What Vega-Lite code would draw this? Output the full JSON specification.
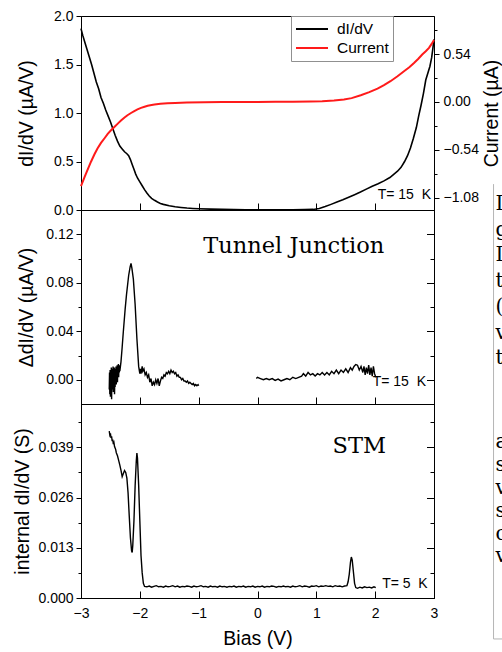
{
  "$schema": "https://vega.github.io/schema/vega-lite/v6.json",
  "padding": {"left": 12, "top": 8, "right": 0, "bottom": 0},
  "background": "white",
  "spacing": 0,
  "bounds": "flush",
  "config": {
    "view": {"stroke": "black", "strokeWidth": 1},
    "axis": {"grid": false, "labelFont": "Liberation Sans", "labelFontSize": 14, "labelColor": "black", "titleFont": "Liberation Sans", "titleFontSize": 19.5, "titleFontWeight": "normal", "titleColor": "black", "domainColor": "black", "tickColor": "black", "labelOverlap": false, "labelFlush": false, "labelPadding": 3}
  },
  "datasets": {
    "didv": [
      {"V": -3.00, "G": 1.87}, {"V": -2.97, "G": 1.80}, {"V": -2.94, "G": 1.74}, {"V": -2.90, "G": 1.66}, {"V": -2.86, "G": 1.58},
      {"V": -2.82, "G": 1.50}, {"V": -2.78, "G": 1.41}, {"V": -2.74, "G": 1.32}, {"V": -2.70, "G": 1.25}, {"V": -2.66, "G": 1.16},
      {"V": -2.62, "G": 1.10}, {"V": -2.58, "G": 1.03}, {"V": -2.54, "G": 0.97}, {"V": -2.50, "G": 0.91}, {"V": -2.46, "G": 0.84},
      {"V": -2.42, "G": 0.77}, {"V": -2.38, "G": 0.71}, {"V": -2.34, "G": 0.66}, {"V": -2.30, "G": 0.63}, {"V": -2.26, "G": 0.60},
      {"V": -2.22, "G": 0.58}, {"V": -2.19, "G": 0.56}, {"V": -2.16, "G": 0.52}, {"V": -2.13, "G": 0.47}, {"V": -2.10, "G": 0.42},
      {"V": -2.07, "G": 0.37}, {"V": -2.04, "G": 0.33}, {"V": -2.00, "G": 0.29}, {"V": -1.96, "G": 0.25}, {"V": -1.92, "G": 0.21},
      {"V": -1.88, "G": 0.175}, {"V": -1.84, "G": 0.145}, {"V": -1.80, "G": 0.12}, {"V": -1.75, "G": 0.10}, {"V": -1.70, "G": 0.082},
      {"V": -1.65, "G": 0.068}, {"V": -1.60, "G": 0.058}, {"V": -1.50, "G": 0.043}, {"V": -1.40, "G": 0.033}, {"V": -1.30, "G": 0.026},
      {"V": -1.20, "G": 0.020}, {"V": -1.10, "G": 0.016}, {"V": -1.00, "G": 0.013}, {"V": -0.80, "G": 0.009}, {"V": -0.60, "G": 0.006},
      {"V": -0.40, "G": 0.004}, {"V": -0.20, "G": 0.003}, {"V": 0.00, "G": 0.002}, {"V": 0.20, "G": 0.002}, {"V": 0.40, "G": 0.002},
      {"V": 0.60, "G": 0.003}, {"V": 0.80, "G": 0.004}, {"V": 0.95, "G": 0.006}, {"V": 1.05, "G": 0.015}, {"V": 1.15, "G": 0.035},
      {"V": 1.25, "G": 0.058}, {"V": 1.35, "G": 0.082}, {"V": 1.45, "G": 0.106}, {"V": 1.55, "G": 0.132}, {"V": 1.65, "G": 0.158},
      {"V": 1.75, "G": 0.185}, {"V": 1.85, "G": 0.215}, {"V": 1.95, "G": 0.245}, {"V": 2.05, "G": 0.27}, {"V": 2.15, "G": 0.30},
      {"V": 2.25, "G": 0.335}, {"V": 2.32, "G": 0.37}, {"V": 2.38, "G": 0.40}, {"V": 2.44, "G": 0.44}, {"V": 2.50, "G": 0.50},
      {"V": 2.55, "G": 0.56}, {"V": 2.60, "G": 0.64}, {"V": 2.65, "G": 0.74}, {"V": 2.70, "G": 0.85}, {"V": 2.74, "G": 0.97},
      {"V": 2.78, "G": 1.08}, {"V": 2.82, "G": 1.20}, {"V": 2.86, "G": 1.34}, {"V": 2.90, "G": 1.42}, {"V": 2.93, "G": 1.48},
      {"V": 2.96, "G": 1.57}, {"V": 2.98, "G": 1.66}, {"V": 3.00, "G": 1.76}
    ],
    "current": [
      {"V": -3.00, "I": -0.95}, {"V": -2.94, "I": -0.85}, {"V": -2.887, "I": -0.763}, {"V": -2.83, "I": -0.675}, {"V": -2.773, "I": -0.594},
      {"V": -2.72, "I": -0.525}, {"V": -2.66, "I": -0.463}, {"V": -2.60, "I": -0.41}, {"V": -2.546, "I": -0.361}, {"V": -2.49, "I": -0.32},
      {"V": -2.433, "I": -0.283}, {"V": -2.375, "I": -0.245}, {"V": -2.32, "I": -0.21}, {"V": -2.26, "I": -0.176}, {"V": -2.21, "I": -0.15},
      {"V": -2.15, "I": -0.125}, {"V": -2.094, "I": -0.103}, {"V": -2.04, "I": -0.084}, {"V": -1.98, "I": -0.067}, {"V": -1.92, "I": -0.054},
      {"V": -1.866, "I": -0.044}, {"V": -1.80, "I": -0.035}, {"V": -1.75, "I": -0.029}, {"V": -1.65, "I": -0.021}, {"V": -1.53, "I": -0.015},
      {"V": -1.40, "I": -0.011}, {"V": -1.20, "I": -0.007}, {"V": -0.90, "I": -0.004}, {"V": -0.60, "I": -0.002}, {"V": -0.30, "I": -0.001},
      {"V": 0.00, "I": 0.0}, {"V": 0.30, "I": 0.001}, {"V": 0.60, "I": 0.002}, {"V": 0.90, "I": 0.004}, {"V": 1.10, "I": 0.008},
      {"V": 1.30, "I": 0.016}, {"V": 1.47, "I": 0.027}, {"V": 1.60, "I": 0.043}, {"V": 1.755, "I": 0.076}, {"V": 1.90, "I": 0.11},
      {"V": 2.04, "I": 0.151}, {"V": 2.15, "I": 0.19}, {"V": 2.26, "I": 0.234}, {"V": 2.38, "I": 0.29}, {"V": 2.49, "I": 0.346},
      {"V": 2.58, "I": 0.392}, {"V": 2.66, "I": 0.44}, {"V": 2.73, "I": 0.485}, {"V": 2.80, "I": 0.535}, {"V": 2.86, "I": 0.572},
      {"V": 2.915, "I": 0.61}, {"V": 2.96, "I": 0.655}, {"V": 3.00, "I": 0.70}
    ],
    "delta": [
      {"V": -2.52, "dG": -0.008, "seg": 1}, {"V": -2.515, "dG": 0.006, "seg": 1}, {"V": -2.51, "dG": -0.012, "seg": 1}, {"V": -2.505, "dG": 0.008, "seg": 1},
      {"V": -2.50, "dG": -0.014, "seg": 1}, {"V": -2.495, "dG": 0.004, "seg": 1}, {"V": -2.49, "dG": -0.01, "seg": 1}, {"V": -2.485, "dG": 0.01, "seg": 1},
      {"V": -2.48, "dG": -0.016, "seg": 1}, {"V": -2.475, "dG": 0.002, "seg": 1}, {"V": -2.47, "dG": -0.008, "seg": 1}, {"V": -2.465, "dG": 0.009, "seg": 1},
      {"V": -2.46, "dG": -0.006, "seg": 1}, {"V": -2.455, "dG": 0.011, "seg": 1}, {"V": -2.45, "dG": -0.01, "seg": 1}, {"V": -2.445, "dG": 0.006, "seg": 1},
      {"V": -2.44, "dG": -0.004, "seg": 1}, {"V": -2.435, "dG": 0.01, "seg": 1}, {"V": -2.43, "dG": -0.012, "seg": 1}, {"V": -2.425, "dG": 0.004, "seg": 1},
      {"V": -2.42, "dG": -0.006, "seg": 1}, {"V": -2.415, "dG": 0.009, "seg": 1}, {"V": -2.41, "dG": 0.0, "seg": 1}, {"V": -2.405, "dG": 0.011, "seg": 1},
      {"V": -2.40, "dG": -0.004, "seg": 1}, {"V": -2.395, "dG": 0.008, "seg": 1}, {"V": -2.39, "dG": 0.002, "seg": 1}, {"V": -2.385, "dG": 0.012, "seg": 1},
      {"V": -2.38, "dG": -0.002, "seg": 1}, {"V": -2.375, "dG": 0.009, "seg": 1}, {"V": -2.37, "dG": 0.004, "seg": 1}, {"V": -2.365, "dG": 0.013, "seg": 1},
      {"V": -2.36, "dG": 0.002, "seg": 1}, {"V": -2.355, "dG": 0.01, "seg": 1}, {"V": -2.35, "dG": 0.006, "seg": 1}, {"V": -2.345, "dG": 0.012, "seg": 1},
      {"V": -2.34, "dG": 0.007, "seg": 1}, {"V": -2.33, "dG": 0.011, "seg": 1}, {"V": -2.32, "dG": 0.015, "seg": 1}, {"V": -2.30, "dG": 0.027, "seg": 1},
      {"V": -2.28, "dG": 0.04, "seg": 1}, {"V": -2.25, "dG": 0.058, "seg": 1}, {"V": -2.227, "dG": 0.07, "seg": 1}, {"V": -2.19, "dG": 0.086, "seg": 1},
      {"V": -2.165, "dG": 0.093, "seg": 1}, {"V": -2.15, "dG": 0.096, "seg": 1}, {"V": -2.135, "dG": 0.092, "seg": 1}, {"V": -2.11, "dG": 0.083, "seg": 1},
      {"V": -2.08, "dG": 0.062, "seg": 1}, {"V": -2.05, "dG": 0.034, "seg": 1}, {"V": -2.02, "dG": 0.011, "seg": 1}, {"V": -2.00, "dG": 0.005, "seg": 1},
      {"V": -1.99, "dG": 0.009, "seg": 1}, {"V": -1.98, "dG": 0.005, "seg": 1}, {"V": -1.96, "dG": 0.011, "seg": 1}, {"V": -1.95, "dG": 0.007, "seg": 1},
      {"V": -1.93, "dG": 0.009, "seg": 1}, {"V": -1.91, "dG": 0.004, "seg": 1}, {"V": -1.89, "dG": 0.006, "seg": 1}, {"V": -1.87, "dG": 0.002, "seg": 1},
      {"V": -1.85, "dG": 0.004, "seg": 1}, {"V": -1.83, "dG": -0.002, "seg": 1}, {"V": -1.81, "dG": 0.001, "seg": 1}, {"V": -1.79, "dG": -0.005, "seg": 1},
      {"V": -1.77, "dG": -0.002, "seg": 1}, {"V": -1.75, "dG": -0.004, "seg": 1}, {"V": -1.73, "dG": 0.0, "seg": 1}, {"V": -1.71, "dG": -0.003, "seg": 1},
      {"V": -1.69, "dG": 0.001, "seg": 1}, {"V": -1.67, "dG": -0.005, "seg": 1}, {"V": -1.65, "dG": -0.001, "seg": 1}, {"V": -1.63, "dG": 0.002, "seg": 1},
      {"V": -1.61, "dG": 0.001, "seg": 1}, {"V": -1.59, "dG": 0.004, "seg": 1}, {"V": -1.57, "dG": 0.003, "seg": 1}, {"V": -1.55, "dG": 0.006, "seg": 1},
      {"V": -1.53, "dG": 0.005, "seg": 1}, {"V": -1.51, "dG": 0.007, "seg": 1}, {"V": -1.49, "dG": 0.005, "seg": 1}, {"V": -1.47, "dG": 0.008, "seg": 1},
      {"V": -1.45, "dG": 0.006, "seg": 1}, {"V": -1.43, "dG": 0.007, "seg": 1}, {"V": -1.41, "dG": 0.005, "seg": 1}, {"V": -1.39, "dG": 0.006, "seg": 1},
      {"V": -1.37, "dG": 0.003, "seg": 1}, {"V": -1.35, "dG": 0.004, "seg": 1}, {"V": -1.33, "dG": 0.002, "seg": 1}, {"V": -1.31, "dG": 0.002, "seg": 1},
      {"V": -1.29, "dG": 0.0, "seg": 1}, {"V": -1.27, "dG": 0.001, "seg": 1}, {"V": -1.25, "dG": -0.001, "seg": 1}, {"V": -1.23, "dG": -0.001, "seg": 1},
      {"V": -1.21, "dG": -0.002, "seg": 1}, {"V": -1.19, "dG": -0.001, "seg": 1}, {"V": -1.17, "dG": -0.003, "seg": 1}, {"V": -1.15, "dG": -0.002, "seg": 1},
      {"V": -1.13, "dG": -0.003, "seg": 1}, {"V": -1.11, "dG": -0.004, "seg": 1}, {"V": -1.09, "dG": -0.003, "seg": 1}, {"V": -1.07, "dG": -0.005, "seg": 1},
      {"V": -1.05, "dG": -0.004, "seg": 1}, {"V": -1.03, "dG": -0.005, "seg": 1}, {"V": -1.01, "dG": -0.004, "seg": 1}, {"V": -1.00, "dG": -0.005, "seg": 1},
      {"V": -0.02, "dG": 0.001, "seg": 2}, {"V": 0.0, "dG": 0.002, "seg": 2}, {"V": 0.05, "dG": 0.001, "seg": 2}, {"V": 0.1, "dG": 0.0, "seg": 2},
      {"V": 0.15, "dG": 0.001, "seg": 2}, {"V": 0.2, "dG": 0.0, "seg": 2}, {"V": 0.25, "dG": 0.001, "seg": 2}, {"V": 0.3, "dG": -0.0005, "seg": 2},
      {"V": 0.35, "dG": 0.0005, "seg": 2}, {"V": 0.4, "dG": -0.001, "seg": 2}, {"V": 0.45, "dG": 0.0, "seg": 2}, {"V": 0.5, "dG": 0.001, "seg": 2},
      {"V": 0.55, "dG": 0.0, "seg": 2}, {"V": 0.6, "dG": 0.002, "seg": 2}, {"V": 0.65, "dG": 0.001, "seg": 2}, {"V": 0.7, "dG": 0.002, "seg": 2},
      {"V": 0.75, "dG": 0.003, "seg": 2}, {"V": 0.78, "dG": 0.005, "seg": 2}, {"V": 0.82, "dG": 0.003, "seg": 2}, {"V": 0.86, "dG": 0.006, "seg": 2},
      {"V": 0.9, "dG": 0.004, "seg": 2}, {"V": 0.94, "dG": 0.005, "seg": 2}, {"V": 0.98, "dG": 0.003, "seg": 2}, {"V": 1.02, "dG": 0.005, "seg": 2},
      {"V": 1.06, "dG": 0.004, "seg": 2}, {"V": 1.1, "dG": 0.006, "seg": 2}, {"V": 1.14, "dG": 0.004, "seg": 2}, {"V": 1.18, "dG": 0.006, "seg": 2},
      {"V": 1.22, "dG": 0.004, "seg": 2}, {"V": 1.26, "dG": 0.007, "seg": 2}, {"V": 1.3, "dG": 0.005, "seg": 2}, {"V": 1.34, "dG": 0.008, "seg": 2},
      {"V": 1.38, "dG": 0.005, "seg": 2}, {"V": 1.42, "dG": 0.008, "seg": 2}, {"V": 1.46, "dG": 0.006, "seg": 2}, {"V": 1.5, "dG": 0.009, "seg": 2},
      {"V": 1.54, "dG": 0.006, "seg": 2}, {"V": 1.58, "dG": 0.01, "seg": 2}, {"V": 1.61, "dG": 0.008, "seg": 2}, {"V": 1.64, "dG": 0.011, "seg": 2},
      {"V": 1.67, "dG": 0.0125, "seg": 2}, {"V": 1.7, "dG": 0.012, "seg": 2}, {"V": 1.73, "dG": 0.008, "seg": 2}, {"V": 1.76, "dG": 0.011, "seg": 2},
      {"V": 1.79, "dG": 0.006, "seg": 2}, {"V": 1.81, "dG": 0.011, "seg": 2}, {"V": 1.83, "dG": 0.004, "seg": 2}, {"V": 1.85, "dG": 0.01, "seg": 2},
      {"V": 1.87, "dG": 0.005, "seg": 2}, {"V": 1.89, "dG": 0.012, "seg": 2}, {"V": 1.91, "dG": 0.004, "seg": 2}, {"V": 1.93, "dG": 0.01, "seg": 2},
      {"V": 1.95, "dG": 0.003, "seg": 2}, {"V": 1.97, "dG": 0.011, "seg": 2}, {"V": 1.99, "dG": 0.005, "seg": 2}, {"V": 2.01, "dG": 0.002, "seg": 2}
    ],
    "stm": [
      {"V": -2.52, "S": 0.0432}, {"V": -2.51, "S": 0.0422}, {"V": -2.50, "S": 0.0426}, {"V": -2.49, "S": 0.0414}, {"V": -2.48, "S": 0.0418},
      {"V": -2.47, "S": 0.0406}, {"V": -2.46, "S": 0.0410}, {"V": -2.45, "S": 0.0398}, {"V": -2.44, "S": 0.0402}, {"V": -2.43, "S": 0.0392},
      {"V": -2.42, "S": 0.0388}, {"V": -2.41, "S": 0.0384}, {"V": -2.40, "S": 0.0376}, {"V": -2.38, "S": 0.0368}, {"V": -2.36, "S": 0.0356},
      {"V": -2.34, "S": 0.0344}, {"V": -2.32, "S": 0.0330}, {"V": -2.30, "S": 0.0314}, {"V": -2.28, "S": 0.0322}, {"V": -2.26, "S": 0.0330},
      {"V": -2.24, "S": 0.0325}, {"V": -2.22, "S": 0.0310}, {"V": -2.20, "S": 0.0272}, {"V": -2.18, "S": 0.0212}, {"V": -2.16, "S": 0.0156},
      {"V": -2.14, "S": 0.0122}, {"V": -2.13, "S": 0.0118}, {"V": -2.12, "S": 0.0136}, {"V": -2.10, "S": 0.0200}, {"V": -2.08, "S": 0.0290},
      {"V": -2.06, "S": 0.0355}, {"V": -2.05, "S": 0.0375}, {"V": -2.04, "S": 0.0362}, {"V": -2.02, "S": 0.0292}, {"V": -2.00, "S": 0.0200},
      {"V": -1.98, "S": 0.0110}, {"V": -1.96, "S": 0.0065}, {"V": -1.94, "S": 0.0038}, {"V": -1.92, "S": 0.0030},
      {"V": -1.88, "S": 0.0029}, {"V": -1.84, "S": 0.0031}, {"V": -1.80, "S": 0.0028}, {"V": -1.76, "S": 0.0030}, {"V": -1.72, "S": 0.0032},
      {"V": -1.68, "S": 0.0029}, {"V": -1.64, "S": 0.0030}, {"V": -1.60, "S": 0.0028}, {"V": -1.56, "S": 0.0031}, {"V": -1.52, "S": 0.0029},
      {"V": -1.48, "S": 0.0030}, {"V": -1.44, "S": 0.0032}, {"V": -1.40, "S": 0.0029}, {"V": -1.36, "S": 0.0031}, {"V": -1.32, "S": 0.0028},
      {"V": -1.28, "S": 0.0030}, {"V": -1.24, "S": 0.0029}, {"V": -1.20, "S": 0.0031}, {"V": -1.16, "S": 0.0030}, {"V": -1.12, "S": 0.0028},
      {"V": -1.08, "S": 0.0031}, {"V": -1.04, "S": 0.0029}, {"V": -1.00, "S": 0.0030}, {"V": -0.96, "S": 0.0032}, {"V": -0.92, "S": 0.0029},
      {"V": -0.88, "S": 0.0030}, {"V": -0.84, "S": 0.0028}, {"V": -0.80, "S": 0.0031}, {"V": -0.76, "S": 0.0029}, {"V": -0.72, "S": 0.0030},
      {"V": -0.68, "S": 0.0028}, {"V": -0.64, "S": 0.0031}, {"V": -0.60, "S": 0.0029}, {"V": -0.56, "S": 0.0030}, {"V": -0.52, "S": 0.0028},
      {"V": -0.48, "S": 0.0030}, {"V": -0.44, "S": 0.0029}, {"V": -0.40, "S": 0.0031}, {"V": -0.36, "S": 0.0028}, {"V": -0.32, "S": 0.0030},
      {"V": -0.28, "S": 0.0029}, {"V": -0.24, "S": 0.0031}, {"V": -0.20, "S": 0.0028}, {"V": -0.16, "S": 0.0030}, {"V": -0.12, "S": 0.0029},
      {"V": -0.08, "S": 0.0031}, {"V": -0.04, "S": 0.0028}, {"V": 0.00, "S": 0.0030}, {"V": 0.04, "S": 0.0029}, {"V": 0.08, "S": 0.0031},
      {"V": 0.12, "S": 0.0028}, {"V": 0.16, "S": 0.0030}, {"V": 0.20, "S": 0.0029}, {"V": 0.24, "S": 0.0031}, {"V": 0.28, "S": 0.0030},
      {"V": 0.32, "S": 0.0028}, {"V": 0.36, "S": 0.0030}, {"V": 0.40, "S": 0.0029}, {"V": 0.44, "S": 0.0031}, {"V": 0.48, "S": 0.0029},
      {"V": 0.52, "S": 0.0030}, {"V": 0.56, "S": 0.0028}, {"V": 0.60, "S": 0.0031}, {"V": 0.64, "S": 0.0029}, {"V": 0.68, "S": 0.0030},
      {"V": 0.72, "S": 0.0032}, {"V": 0.76, "S": 0.0029}, {"V": 0.80, "S": 0.0031}, {"V": 0.84, "S": 0.0030}, {"V": 0.88, "S": 0.0028},
      {"V": 0.92, "S": 0.0031}, {"V": 0.96, "S": 0.0030}, {"V": 1.00, "S": 0.0032}, {"V": 1.04, "S": 0.0029}, {"V": 1.08, "S": 0.0031},
      {"V": 1.12, "S": 0.0030}, {"V": 1.16, "S": 0.0032}, {"V": 1.20, "S": 0.0030}, {"V": 1.24, "S": 0.0031}, {"V": 1.28, "S": 0.0029},
      {"V": 1.32, "S": 0.0032}, {"V": 1.36, "S": 0.0030}, {"V": 1.40, "S": 0.0031}, {"V": 1.44, "S": 0.0029}, {"V": 1.48, "S": 0.0031},
      {"V": 1.52, "S": 0.0032}, {"V": 1.54, "S": 0.0042}, {"V": 1.56, "S": 0.0062}, {"V": 1.58, "S": 0.0092}, {"V": 1.595, "S": 0.0106},
      {"V": 1.61, "S": 0.0098}, {"V": 1.63, "S": 0.0068}, {"V": 1.65, "S": 0.0038}, {"V": 1.67, "S": 0.0027}, {"V": 1.70, "S": 0.0025},
      {"V": 1.74, "S": 0.0028}, {"V": 1.78, "S": 0.0026}, {"V": 1.82, "S": 0.0029}, {"V": 1.86, "S": 0.0027}, {"V": 1.90, "S": 0.0028},
      {"V": 1.94, "S": 0.0026}, {"V": 1.98, "S": 0.0029}, {"V": 2.01, "S": 0.0027}
    ]
  },
  "vconcat": [
    {
      "width": 353,
      "height": 194,
      "layer": [
        {
          "layer": [
            {
              "data": {"name": "didv"},
              "mark": {"type": "line", "strokeWidth": 1.6},
              "encoding": {
                "x": {"field": "V", "type": "quantitative", "scale": {"domain": [-3, 3], "nice": false, "zero": false},
                  "axis": {"title": null, "labels": false, "values": [-3, -2.75, -2.5, -2.25, -2, -1.75, -1.5, -1.25, -1, -0.75, -0.5, -0.25, 0, 0.25, 0.5, 0.75, 1, 1.25, 1.5, 1.75, 2, 2.25, 2.5, 2.75, 3],
                    "tickSize": {"condition": {"test": "abs(datum.value*2 - round(datum.value*2)) > 0.01", "value": -3.5}, "value": -7}}},
                "y": {"field": "G", "type": "quantitative", "scale": {"domain": [0, 2], "nice": false, "zero": false},
                  "axis": {"title": "dI/dV (µA/V)", "titlePadding": 17, "values": [0, 0.25, 0.5, 0.75, 1, 1.25, 1.5, 1.75, 2], "format": ".1f",
                    "labelExpr": "(datum.value*4) % 2 === 0 ? datum.label : ''",
                    "tickSize": {"condition": {"test": "(datum.value*4) % 2 !== 0", "value": 3}, "value": 5}}},
                "color": {"datum": "dI/dV", "type": "nominal",
                  "scale": {"domain": ["dI/dV", "Current"], "range": ["black", "#ff1a1a"]},
                  "legend": {"orient": "none", "legendX": 210, "legendY": 0, "title": null, "symbolType": "M-1,0H3", "symbolSize": 256, "symbolStrokeWidth": 2,
                    "labelFont": "Liberation Sans", "labelFontSize": 15.5, "labelColor": "black", "strokeColor": "#909090", "fillColor": "white",
                    "padding": 4, "rowPadding": 1, "labelOffset": 24}}
              }
            },
            {
              "data": {"values": [{}]},
              "mark": {"type": "text", "text": "T= 15 \u00a0K", "font": "Liberation Sans", "fontSize": 14, "align": "right", "baseline": "alphabetic", "color": "black"},
              "encoding": {"x": {"datum": 2.949, "type": "quantitative"}, "y": {"datum": 0.113, "type": "quantitative"}}
            }
          ]
        },
        {
          "data": {"name": "current"},
          "mark": {"type": "line", "strokeWidth": 2},
          "encoding": {
            "x": {"field": "V", "type": "quantitative"},
            "y": {"field": "I", "type": "quantitative", "scale": {"domain": [-1.22, 0.97], "nice": false, "zero": false},
              "axis": {"orient": "right", "title": "Current (µA)", "titleAngle": 270, "titleBaseline": "top", "titlePadding": 4, "labelPadding": 4,
                "values": [-1.08, -0.81, -0.54, -0.27, 0, 0.27, 0.54, 0.81], "format": ".2f",
                "labelExpr": "indexof([-1.08, -0.54, 0, 0.54], datum.value) >= 0 ? datum.label : ''",
                "tickSize": {"condition": {"test": "indexof([-1.08, -0.54, 0, 0.54], datum.value) < 0", "value": 3}, "value": 5}}},
            "color": {"datum": "Current", "type": "nominal"}
          }
        }
      ],
      "resolve": {"scale": {"y": "independent"}}
    },
    {
      "width": 353,
      "height": 194,
      "layer": [
        {
          "data": {"name": "delta"},
          "mark": {"type": "line", "strokeWidth": 1.4, "color": "black"},
          "encoding": {
            "x": {"field": "V", "type": "quantitative", "scale": {"domain": [-3, 3], "nice": false, "zero": false},
              "axis": {"title": null, "labels": false, "values": [-3, -2.75, -2.5, -2.25, -2, -1.75, -1.5, -1.25, -1, -0.75, -0.5, -0.25, 0, 0.25, 0.5, 0.75, 1, 1.25, 1.5, 1.75, 2, 2.25, 2.5, 2.75, 3],
                "tickSize": {"condition": {"test": "abs(datum.value*2 - round(datum.value*2)) > 0.01", "value": -3.5}, "value": -7}}},
            "y": {"field": "dG", "type": "quantitative", "scale": {"domain": [-0.02, 0.14], "nice": false, "zero": false},
              "axis": {"title": "ΔdI/dV (µA/V)", "titlePadding": 9, "values": [0, 0.02, 0.04, 0.06, 0.08, 0.1, 0.12], "format": ".2f",
                "labelExpr": "indexof([0, 0.04, 0.08, 0.12], datum.value) >= 0 ? datum.label : ''",
                "tickSize": {"condition": {"test": "indexof([0, 0.04, 0.08, 0.12], datum.value) < 0", "value": 3}, "value": 5}}},
            "detail": {"field": "seg", "type": "nominal"}
          }
        },
        {
          "data": {"values": [{}]},
          "mark": {"type": "text", "text": "Tunnel Junction", "font": "DejaVu Serif", "fontSize": 22.5, "align": "right", "baseline": "alphabetic", "color": "black"},
          "encoding": {"x": {"datum": 2.156, "type": "quantitative"}, "y": {"datum": 0.1048, "type": "quantitative", "axis": null}}
        },
        {
          "data": {"values": [{}]},
          "mark": {"type": "text", "text": "T= 15 \u00a0K", "font": "Liberation Sans", "fontSize": 14, "align": "right", "baseline": "alphabetic", "color": "black"},
          "encoding": {"x": {"datum": 2.864, "type": "quantitative"},
            "y": {"datum": -0.0052, "type": "quantitative",
              "axis": {"orient": "right", "title": null, "labels": false, "values": [0, 0.02, 0.04, 0.06, 0.08, 0.1, 0.12],
                "tickSize": {"condition": {"test": "indexof([0, 0.04, 0.08, 0.12], datum.value) < 0", "value": -4}, "value": -7.5}}}}
        }
      ],
      "resolve": {"axis": {"y": "independent"}}
    },
    {
      "width": 353,
      "height": 194,
      "layer": [
        {
          "data": {"name": "stm"},
          "mark": {"type": "line", "strokeWidth": 1.4, "color": "black"},
          "encoding": {
            "x": {"field": "V", "type": "quantitative", "scale": {"domain": [-3, 3], "nice": false, "zero": false},
              "axis": {"title": "Bias (V)", "titlePadding": 9, "labelPadding": 15.5, "format": "d", "values": [-3, -2.5, -2, -1.5, -1, -0.5, 0, 0.5, 1, 1.5, 2, 2.5, 3],
                "labelExpr": "abs(datum.value - round(datum.value)) > 0.01 ? '' : datum.label",
                "tickSize": {"condition": {"test": "abs(datum.value - round(datum.value)) > 0.01", "value": -3.5}, "value": -7}}},
            "y": {"field": "S", "type": "quantitative", "scale": {"domain": [0, 0.0502], "nice": false, "zero": false},
              "axis": {"title": "internal dI/dV (S)", "titlePadding": 5, "values": [0, 0.0065, 0.013, 0.0195, 0.026, 0.0325, 0.039, 0.0455], "format": ".3f",
                "labelExpr": "indexof([0, 0.013, 0.026, 0.039], datum.value) >= 0 ? datum.label : ''",
                "tickSize": {"condition": {"test": "indexof([0, 0.013, 0.026, 0.039], datum.value) < 0", "value": 3}, "value": 5}}}
          }
        },
        {
          "data": {"values": [{}]},
          "mark": {"type": "text", "text": "STM", "font": "DejaVu Serif", "fontSize": 22.5, "align": "right", "baseline": "alphabetic", "color": "black"},
          "encoding": {"x": {"datum": 2.184, "type": "quantitative"}, "y": {"datum": 0.0376, "type": "quantitative", "axis": null}}
        },
        {
          "data": {"values": [{}]},
          "mark": {"type": "text", "text": "T= 5 \u00a0K", "font": "Liberation Sans", "fontSize": 14, "align": "right", "baseline": "alphabetic", "color": "black"},
          "encoding": {"x": {"datum": 2.893, "type": "quantitative"},
            "y": {"datum": 0.00267, "type": "quantitative",
              "axis": {"orient": "right", "title": null, "labels": false, "values": [0, 0.0065, 0.013, 0.0195, 0.026, 0.0325, 0.039, 0.0455],
                "tickSize": {"condition": {"test": "indexof([0, 0.013, 0.026, 0.039], datum.value) < 0", "value": -4}, "value": -7.5}}}}
        },
        {
          "data": {"values": [{}]},
          "mark": {"type": "text", "text": ["I", "g", "I", "t", "(", "v", "t"], "font": "DejaVu Serif", "fontSize": 20, "align": "left", "baseline": "alphabetic", "lineHeight": 25.7, "color": "black"},
          "encoding": {"x": {"datum": 4.046, "type": "quantitative"}, "y": {"datum": 0.1004, "type": "quantitative", "axis": null}}
        },
        {
          "data": {"values": [{}]},
          "mark": {"type": "text", "text": ["a", "s", "v", "s", "c", "v"], "font": "DejaVu Serif", "fontSize": 20, "align": "left", "baseline": "alphabetic", "lineHeight": 22.8, "color": "black"},
          "encoding": {"x": {"datum": 4.046, "type": "quantitative"}, "y": {"datum": 0.0387, "type": "quantitative", "axis": null}}
        },
        {
          "data": {"values": [{}]},
          "mark": {"type": "rule", "color": "#b5b5b5", "strokeWidth": 1},
          "encoding": {"x": {"datum": 4.012, "type": "quantitative"}, "y": {"datum": 0.1071, "type": "quantitative", "axis": null}, "y2": {"datum": -0.0106}}
        },
        {
          "data": {"values": [{}]},
          "mark": {"type": "rule", "color": "#b5b5b5", "strokeWidth": 1},
          "encoding": {"x": {"datum": 4.012, "type": "quantitative"}, "x2": {"datum": 4.6}, "y": {"datum": -0.0106, "type": "quantitative", "axis": null}}
        }
      ],
      "resolve": {"axis": {"y": "independent"}}
    }
  ]
}
